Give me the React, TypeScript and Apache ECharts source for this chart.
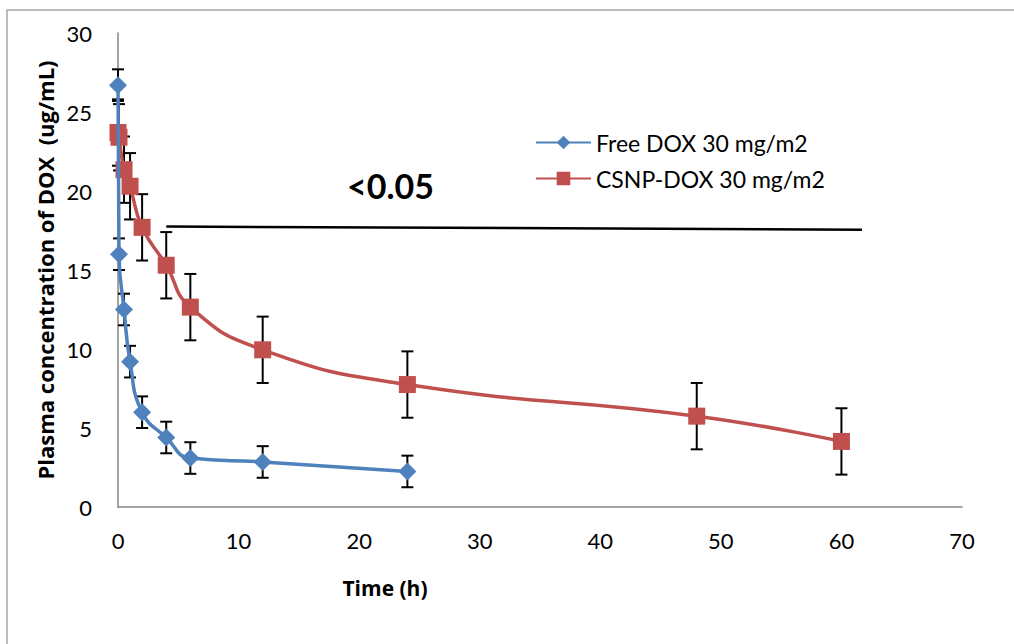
import React, { useEffect, useRef } from "react";
import * as echarts from "echarts";

const timesFree = [0, 0.083, 0.5, 1, 2, 4, 6, 12, 24];
const freeDox = [26.7, 16.0, 12.5, 9.2, 6.0, 4.4, 3.1, 2.85, 2.25];
const freeErr = [1.0, 1.0, 1.0, 1.0, 1.0, 1.0, 1.0, 1.0, 1.0];

const timesCsnp = [0, 0.083, 0.5, 1, 2, 4, 6, 12, 24, 48, 60];
const csnpDox = [23.7, 23.4, 21.35, 20.3, 17.7, 15.3, 12.65, 9.95, 7.75, 5.75, 4.15];
const csnpErr = [2.1, 2.1, 2.1, 2.1, 2.1, 2.1, 2.1, 2.1, 2.1, 2.1, 2.1];

const sigLine = [
  [4, 17.75],
  [61.7, 17.55],
];
const sigLabel = "<0.05";

const seriesNames = ["Free DOX 30 mg/m2", "CSNP-DOX 30 mg/m2"];
const yTitle = "Plasma concentration of DOX  (ug/mL)";
const xTitle = "Time (h)";

const BLUE = "#4f81bd";
const RED = "#c0504d";
const FONT = "Lato";

function errRender(params: any, api: any) {
  const x = api.value(0);
  const y = api.value(1);
  const e = api.value(2);
  const top = api.coord([x, y + e]);
  const bot = api.coord([x, y - e]);
  const w = 6;
  const st = { stroke: "#000", lineWidth: 2 };
  return {
    type: "group",
    children: [
      { type: "line", shape: { x1: top[0], y1: top[1], x2: bot[0], y2: bot[1] }, style: st },
      { type: "line", shape: { x1: top[0] - w, y1: top[1], x2: top[0] + w, y2: top[1] }, style: st },
      { type: "line", shape: { x1: bot[0] - w, y1: bot[1], x2: bot[0] + w, y2: bot[1] }, style: st },
    ],
  };
}

export default function App() {
  const ref = useRef<HTMLDivElement>(null);
  useEffect(() => {
    if (!ref.current) return;
    const chart = echarts.init(ref.current, null, { renderer: "svg" });
    const freeData = timesFree.map((t, i) => [t, freeDox[i]]);
    const csnpData = timesCsnp.map((t, i) => [t, csnpDox[i]]);
    const freeErrData = timesFree.map((t, i) => [t, freeDox[i], freeErr[i]]);
    const csnpErrData = timesCsnp.map((t, i) => [t, csnpDox[i], csnpErr[i]]);
    chart.setOption({
      animation: false,
      backgroundColor: "#fff",
      graphic: [
        {
          type: "rect",
          shape: { x: 7, y: 10, width: 1100, height: 700 },
          style: { fill: "none", stroke: "#a6a6a6", lineWidth: 1.5 },
          silent: true,
        },
        {
          type: "text",
          left: 347,
          top: 168,
          style: {
            text: sigLabel,
            font: `bold 34px ${FONT}`,
            fill: "#000",
          },
        },
      ],
      grid: { left: 118, top: 33, right: 1014 - 962, bottom: 644 - 507, containLabel: false },
      legend: {
        data: seriesNames,
        orient: "vertical",
        left: 530,
        top: 126,
        itemWidth: 55,
        itemHeight: 17,
        itemGap: 13,
        textStyle: { fontFamily: FONT, fontSize: 23, color: "#000", lineHeight: 23 },
      },
      xAxis: {
        type: "value",
        min: 0,
        max: 70,
        interval: 10,
        name: xTitle,
        nameLocation: "middle",
        nameGap: 70,
        nameTextStyle: {
          fontFamily: "Open Sans",
          fontWeight: "bold",
          fontSize: 21,
          color: "#000",
          padding: [0, 310, 0, 0],
        },
        axisLine: { lineStyle: { color: "#868686", width: 1.5 } },
        axisTick: { show: false },
        splitLine: { show: false },
        axisLabel: { fontFamily: FONT, fontSize: 22, color: "#000", margin: 22 },
      },
      yAxis: {
        type: "value",
        min: 0,
        max: 30,
        interval: 5,
        name: yTitle,
        nameLocation: "middle",
        nameGap: 61,
        nameTextStyle: { fontFamily: "Open Sans", fontWeight: "bold", fontSize: 22, color: "#000" },
        axisLine: { show: true, lineStyle: { color: "#868686", width: 1.5 } },
        axisTick: { show: false },
        splitLine: { show: false },
        axisLabel: { fontFamily: FONT, fontSize: 22, color: "#000", margin: 26 },
      },
      series: [
        {
          name: "errFree",
          type: "custom",
          renderItem: errRender,
          data: freeErrData,
          encode: { x: 0, y: 1 },
          z: 1,
          silent: true,
        },
        {
          name: "errCsnp",
          type: "custom",
          renderItem: errRender,
          data: csnpErrData,
          encode: { x: 0, y: 1 },
          z: 1,
          silent: true,
        },
        {
          name: seriesNames[1],
          type: "line",
          data: csnpData,
          smooth: 0.5,
          symbol: "rect",
          symbolSize: 17,
          itemStyle: { color: RED },
          lineStyle: { color: RED, width: 3.5 },
          z: 3,
          markLine: {
            silent: true,
            symbol: "none",
            label: { show: false },
            lineStyle: { color: "#000", width: 2.5, type: "solid" },
            data: [[{ coord: sigLine[0] }, { coord: sigLine[1] }]],
          },
        },
        {
          name: seriesNames[0],
          type: "line",
          data: freeData,
          smooth: 0.5,
          symbol: "diamond",
          symbolSize: 18,
          itemStyle: { color: BLUE },
          lineStyle: { color: BLUE, width: 3.5 },
          z: 4,
        },
      ],
    });
    return () => chart.dispose();
  }, []);
  return (
    <div
      ref={ref}
      style={{ position: "fixed", left: 0, top: 0, width: 1014, height: 644, background: "#fff" }}
    />
  );
}
